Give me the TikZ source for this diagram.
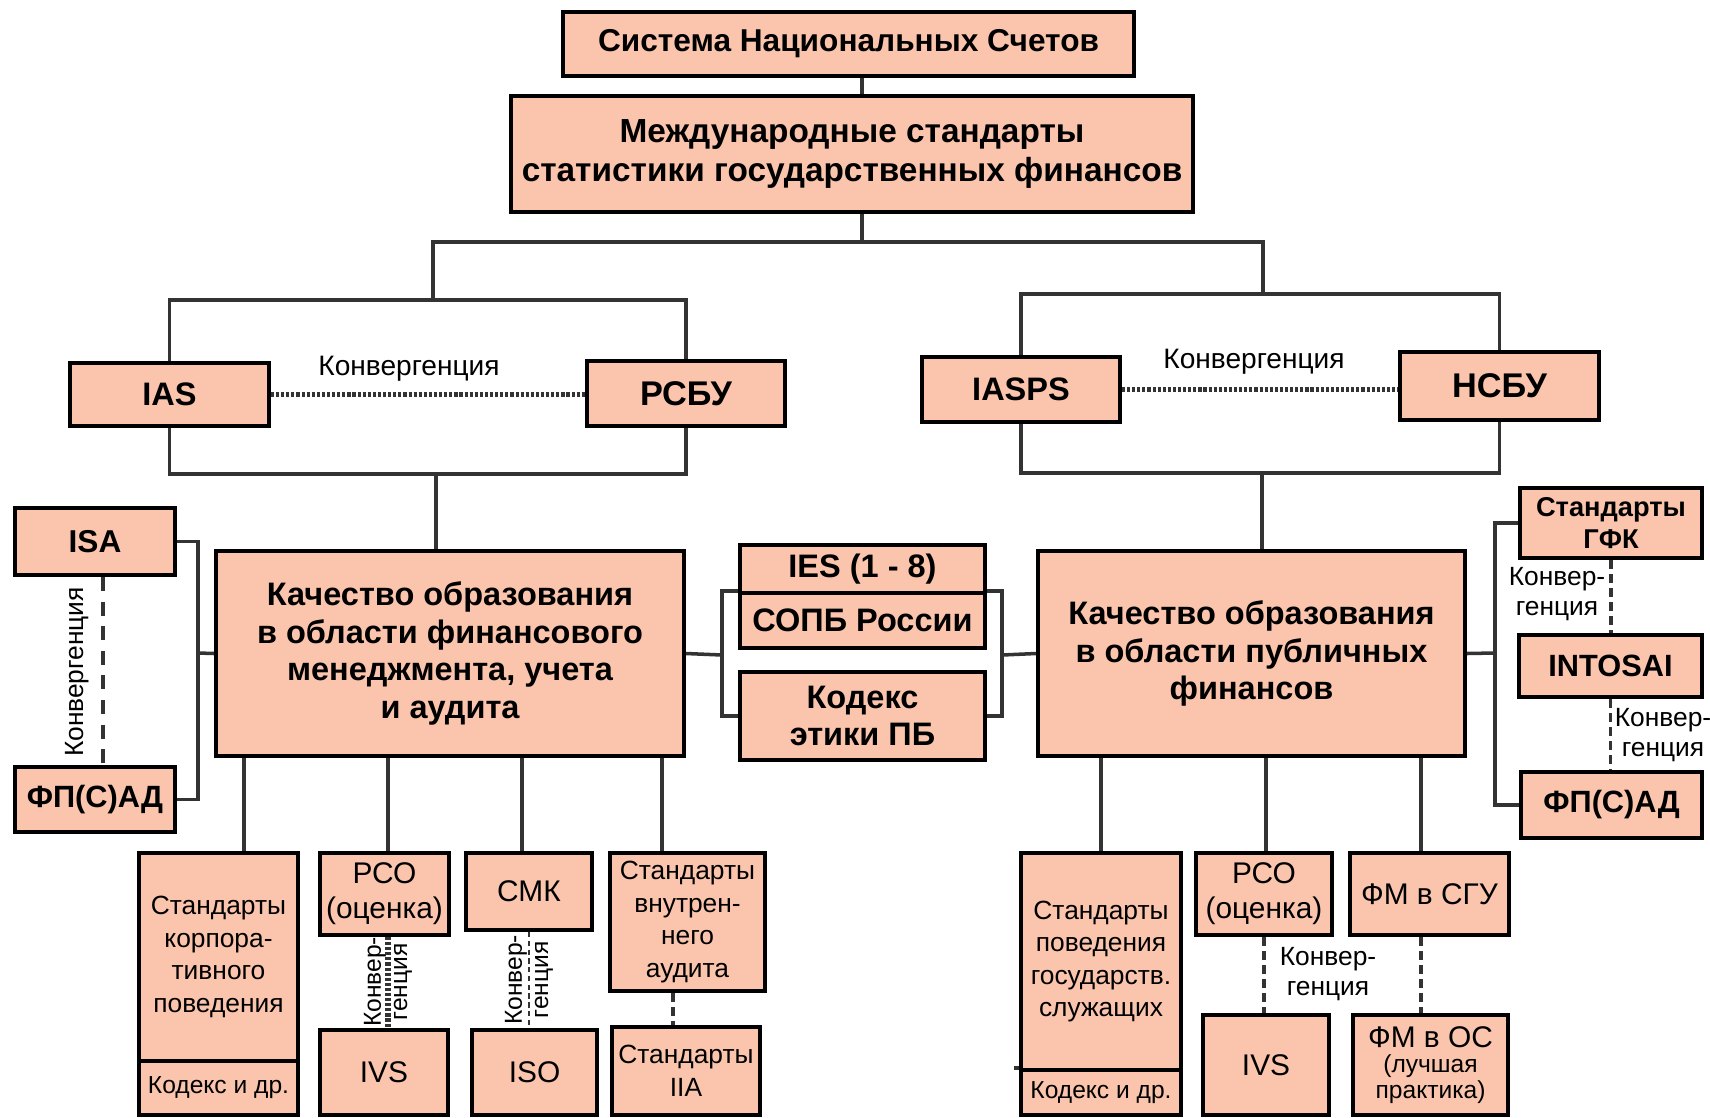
\documentclass[tikz,border=0pt]{standalone}
\usepackage{fontspec}
\setmainfont{Liberation Sans}
\usetikzlibrary{calc}

\definecolor{boxfill}{RGB}{250,197,172}
\newcommand{\fs}[2]{\fontsize{#1}{#2}\selectfont}

\tikzset{
  box/.style={draw=black, fill=boxfill, line width=2.2pt, inner sep=0pt, align=center, font=\bfseries\fs{18.5}{21.5}},
  sbox/.style={box, font=\fs{15}{18.5}},
  wh/.style 2 args={minimum width=#1*0.02cm, minimum height=#2*0.02cm},
  conn/.style={line width=2pt, black!80},
  dots/.style={line width=3pt, dash pattern=on 1.8pt off 1.1pt, black!80},
  dsh/.style={line width=1.8pt, dash pattern=on 5pt off 3pt, black!80},
  lbl/.style={inner sep=0pt, align=center, font=\fs{15}{17}},
}

\begin{document}
\begin{tikzpicture}[x=0.02cm, y=-0.02cm]
\useasboundingbox (0,0) rectangle (1710,1117);

% Top of the hierarchy
\node[box, wh={571}{64}, font=\bfseries\fs{18}{22}] (snc) at (848.5,44) {Система Национальных Счетов};
\node[box, wh={682}{116}, font=\bfseries\fs{19}{22}] (msgf) at (852,154) {Международные стандарты\\статистики государственных финансов};

% Accounting standards
\node[box, wh={199}{63}, font=\bfseries\fs{18.5}{22}] (ias) at (169.5,394.5) {IAS};
\node[box, wh={198}{65}, font=\bfseries\fs{19.5}{22}] (rsbu) at (686,393.5) {РСБУ};
\node[box, wh={198}{65}, font=\bfseries\fs{18.5}{22}] (iasps) at (1021,389.5) {IASPS};
\node[box, wh={199}{68}, font=\bfseries\fs{19.5}{22}] (nsbu) at (1499.5,386) {НСБУ};
\node[lbl, font=\fs{16}{18}] (conv1) at (409,369) {Конвергенция};
\node[lbl, font=\fs{16}{18}] (conv2) at (1254,362) {Конвергенция};

% Quality of education
\node[box, wh={468}{205}] (qleft) at (450,653.5) {Качество образования\\в области финансового\\менеджмента, учета\\и аудита};
\node[box, wh={427}{205}] (qright) at (1251.5,653.5) {Качество образования\\в области публичных\\финансов};

% Middle column
\node[box, wh={245}{48}] (ies) at (862.5,569) {IES (1 - 8)};
\node[box, wh={245}{55}] (sopb) at (862.5,620.5) {СОПБ России};
\node[box, wh={245}{88}] (kodeks) at (862.5,716) {Кодекс\\этики ПБ};

% Left column
\node[box, wh={160}{67}, font=\bfseries\fs{18}{22}] (isa) at (95,541.5) {ISA};
\node[box, wh={160}{65}, font=\bfseries\fs{17.5}{22}] (fpsad1) at (95,799.5) {ФП(С)АД};
\node[lbl, rotate=90] (conv3) at (77,672) {Конвергенция};

% Right column
\node[box, wh={182}{70}, font=\bfseries\fs{15.5}{18}] (gfk) at (1611,523) {Стандарты\\ГФК};
\node[box, wh={183}{62}, font=\bfseries\fs{17.5}{21}] (intosai) at (1610.5,666) {INTOSAI};
\node[box, wh={181}{66}, font=\bfseries\fs{17.5}{22}] (fpsad2) at (1611.5,805) {ФП(С)АД};
\node[lbl] (conv4) at (1557,594) {Конвер-\\генция};
\node[lbl] (conv5) at (1663,735) {Конвер-\\генция};

% Bottom row, left
\node[sbox, wh={159}{208}] (corp) at (218.5,957) {Стандарты\\корпора-\\тивного\\поведения};
\node[sbox, wh={159}{54}, font=\fs{14}{17}] (kod1) at (218.5,1088) {Кодекс и др.};
\node[sbox, wh={129}{82}, font=\fs{17}{20}] (pco1) at (384.5,894) {РСО\\(оценка)};
\node[sbox, wh={128}{85}, font=\fs{17}{20}] (ivs1) at (384,1072.5) {IVS};
\node[sbox, wh={126}{77}, font=\fs{17}{20}] (smk) at (529,891.5) {СМК};
\node[sbox, wh={125}{85}, font=\fs{17}{20}] (iso) at (534.5,1072.5) {ISO};
\node[sbox, wh={155}{138}] (vna) at (687.5,922) {Стандарты\\внутрен-\\него\\аудита};
\node[sbox, wh={148}{88}] (iia) at (686,1071) {Стандарты\\IIA};
\node[lbl, rotate=90, font=\fs{14}{15}] (conv6) at (388,982) {Конвер-\\генция};
\node[lbl, rotate=90, font=\fs{14}{15}] (conv7) at (529,980) {Конвер-\\генция};

% Bottom row, right
\node[sbox, wh={160}{217}] (gos) at (1101,961.5) {Стандарты\\поведения\\государств.\\служащих};
\node[sbox, wh={160}{45}, font=\fs{14}{17}] (kod2) at (1101,1092.5) {Кодекс и др.};
\node[sbox, wh={136}{82}, font=\fs{17}{20}] (pco2) at (1264,894) {РСО\\(оценка)};
\node[sbox, wh={126}{100}, font=\fs{17}{20}] (ivs2) at (1266,1065) {IVS};
\node[sbox, wh={159}{82}, font=\fs{17}{20}] (fm1) at (1429.5,894) {ФМ в СГУ};
\node[sbox, wh={155}{100}, font=\fs{14}{14.5}] (fm2) at (1430.5,1065) {\fs{17}{18}ФМ в ОС\\\fs{14}{19}(лучшая\\\fs{14}{15}практика)};
\node[lbl] (conv8) at (1328,974) {Конвер-\\генция};

% Tree of connectors
\coordinate (jc) at (862,242);
\coordinate (jl) at (433,242);
\coordinate (jr) at (1263,242);
\coordinate (lt) at (433,300);
\coordinate (rt) at (1263,294);
\coordinate (lb) at (436,474);
\coordinate (rb) at (1262,473);
\draw[conn] (jc |- snc.south) -- (jc |- msgf.north);
\draw[conn] (jc |- msgf.south) -- (jc);
\draw[conn] (lt) -- (jl) -- (jr) -- (rt);
\draw[conn] (ias.north) |- (lt) -| (rsbu.north);
\draw[conn] (iasps.north) |- (rt) -| (nsbu.north);
\draw[conn] (ias.south) |- (lb) -| (rsbu.south);
\draw[conn] (iasps.south) |- (rb) -| (nsbu.south);
\draw[conn] (lb) -- (lb |- qleft.north);
\draw[conn] (rb) -- (rb |- qright.north);
\draw[dots] (ias.east) -- (ias.east -| rsbu.west);
\draw[dots] (iasps.east) -- (iasps.east -| nsbu.west);

% Brackets at the sides
\coordinate (ml) at (722,655);
\coordinate (mr) at (1002,655);
\coordinate (lk) at (198,653);
\coordinate (rk) at (1495,653);
\draw[conn] (qleft.east) -- (ml);
\draw[conn] (sopb.north west) -| (ml) |- (kodeks.west);
\draw[conn] (qright.west) -- (mr);
\draw[conn] (sopb.north east) -| (mr) |- (kodeks.east);
\draw[conn] (qleft.west) -- (lk);
\draw[conn] (isa.east) -| (lk) |- (fpsad1.east);
\draw[conn] (qright.east) -- (rk);
\draw[conn] (gfk.west) -| (rk) |- (fpsad2.west);
\draw[dsh, dash pattern=on 8pt off 6pt] ([xshift=0.16cm]isa.south) -- ([xshift=0.16cm]fpsad1.north);
\draw[dsh] (gfk.south) -- (gfk.south |- intosai.north);
\draw[dsh] (intosai.south) -- (intosai.south |- fpsad2.north);

% Lower boxes
\foreach \x/\b in {244/corp,388/pco1,522/smk,662/vna}
  \draw[conn] (qleft.south -| \x,0) -- (\b.north -| \x,0);
\foreach \x/\b in {1101/gos,1266/pco2,1421/fm1}
  \draw[conn] (qright.south -| \x,0) -- (\b.north -| \x,0);
\draw[dots] (pco1.south -| 388,0) -- (ivs1.north -| 388,0);
\draw[dsh, line width=1pt, dash pattern=on 3pt off 2pt] (smk.south) -- (smk.south |- iso.north);
\draw[dsh] (vna.south -| 673,0) -- (iia.north -| 673,0);
\draw[dsh] (pco2.south) -- (pco2.south |- ivs2.north);
\draw[dsh] (fm1.south -| 1421,0) -- (fm2.north -| 1421,0);
\draw[conn] ([xshift=-0.1cm]kod2.north west) -- (kod2.north west);
\end{tikzpicture}
\end{document}
